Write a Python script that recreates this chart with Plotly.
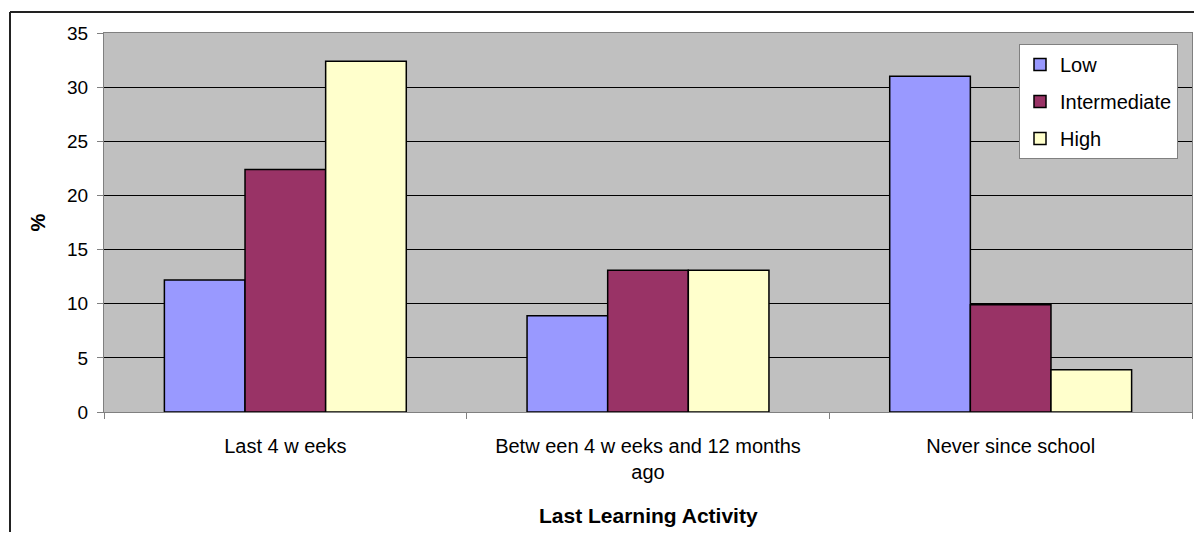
import plotly.graph_objects as go

categories = ["Last 4 w eeks", "Betw een 4 w eeks and 12 months<br>ago", "Never since school"]
series_names = ["Low", "Intermediate", "High"]
low_values = [12.2, 8.9, 31.0]
intermediate_values = [22.4, 13.1, 9.9]
high_values = [32.4, 13.1, 3.9]
colors = ["#9999FF", "#993366", "#FFFFCC"]

y_ticks = [0, 5, 10, 15, 20, 25, 30, 35]

fig = go.Figure()
for i, (name, vals) in enumerate(zip(series_names, [low_values, intermediate_values, high_values])):
    fig.add_trace(go.Bar(
        x=categories, y=vals, name=name, legendgroup=name,
        marker=dict(color=colors[i], line=dict(color="black", width=1.5)),
    ))

FONT = "Liberation Sans, Arial, sans-serif"
# page is rendered with an 8px body margin; work in page coordinates
OFF = 8
PAGE_W, PAGE_H = 1202, 540
W, H = PAGE_W - 2 * OFF, PAGE_H - 2 * OFF
PL, PT, PR, PB = 104, 33, 1192, 412   # plot area in page coords
L = PL - OFF
T = PT - OFF
R = W - (PR - OFF)
B = H - (PB - OFF)
pw = PR - PL
ph = PB - PT

def px(x):
    return (x - PL) / pw

def py(y):
    return (PB - y) / ph

border = dict(color="#222222", width=2)

fig.update_layout(
    width=W, height=H,
    margin=dict(l=L, r=R, t=T, b=B, pad=0),
    paper_bgcolor="white",
    plot_bgcolor="#C0C0C0",
    barmode="group",
    bargap=0.333,
    bargroupgap=0,
    font=dict(family=FONT, color="black", size=19),
    showlegend=True,
    legend=dict(
        x=px(1019), y=py(44), xanchor="left", yanchor="top",
        bgcolor="white", bordercolor="#808080", borderwidth=1,
        font=dict(family=FONT, size=20, color="black"),
        traceorder="grouped", tracegroupgap=8,
        itemwidth=30,
    ),
    xaxis=dict(
        showline=True, linecolor="#808080", linewidth=1, mirror=True,
        ticks="outside", tickson="boundaries", ticklen=6, tickcolor="#808080",
        tickfont=dict(family=FONT, size=20, color="black"),
        ticklabelstandoff=16,
        showgrid=False,
    ),
    yaxis=dict(
        range=[0, 35], tickvals=y_ticks,
        showline=True, linecolor="#808080", linewidth=1, mirror=True,
        ticks="outside", ticklen=6, tickcolor="#808080",
        tickfont=dict(family=FONT, size=19, color="black"),
        ticklabelstandoff=5,
        showgrid=True, gridcolor="black", gridwidth=1,
        zeroline=False,
    ),
    shapes=[
        dict(type="line", xref="paper", yref="paper",
             x0=px(10), x1=px(1202), y0=py(12), y1=py(12), line=border),
        dict(type="line", xref="paper", yref="paper",
             x0=px(10), x1=px(10), y0=py(12), y1=py(540), line=border),
    ],
    annotations=[
        dict(text="<b>%</b>", xref="paper", yref="paper", x=px(37), y=0.5,
             textangle=-90, showarrow=False, font=dict(family=FONT, size=20, color="black"),
             xanchor="center", yanchor="middle"),
        dict(text="<b>Last Learning Activity</b>", xref="paper", yref="paper",
             x=0.5, y=py(516), showarrow=False,
             font=dict(family=FONT, size=21, color="black"),
             xanchor="center", yanchor="middle"),
    ],
)

fig.write_html("out.html")
